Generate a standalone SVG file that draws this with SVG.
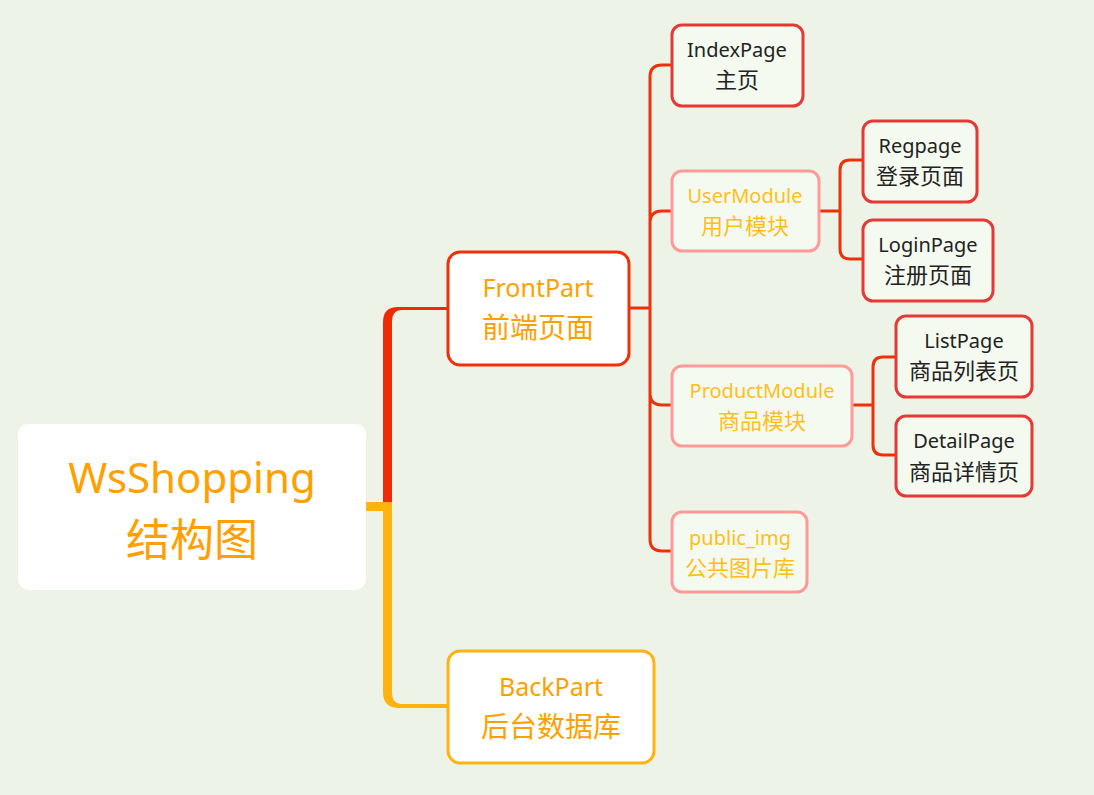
<svg xmlns="http://www.w3.org/2000/svg" width="1094" height="795" viewBox="0 0 1094 795">
<style>
.t{font-family:"Noto Sans","Noto Sans CJK SC",sans-serif;text-anchor:middle}
.leaf rect{fill:#F5FAF0;stroke:#E53935;stroke-width:3}
.leaf text{fill:#222;font-size:20px}
.mod rect{fill:#F5FAF0;stroke:#FF9A98;stroke-width:3}
.mod text{fill:#FFBE1A;font-size:20px}
.leaf text.c,.mod text.c{font-size:22px}
.main text{fill:#FFA000;font-size:25px}
.main text.c{font-size:28px}
.ln{fill:none;stroke:#F0300A;stroke-width:3}
</style>
<rect width="1094" height="795" fill="#EDF4E7"/>
<g id="connectors">
<path d="M383 502 L383 322 Q383 307 398 307 L448 307 L448 310 L402 310 Q392 310 392 322 L392 502 Z" fill="#F02A05"/>
<path d="M383 502 L383 692 Q383 708 399 708 L448 708 L448 704 L402 704 Q392 704 392 692 L392 502 Z" fill="#FFB310"/>
<rect x="366" y="502" width="26" height="9" fill="#FFB310"/>
<path class="ln" d="M629 308 L650 308 M672 65 L662 65 Q650 65 650 77 L650 539 Q650 551 662 551 L672 551 M650 223 Q650 211 662 211 L672 211 M650 393 Q650 405 662 405 L672 405"/>
<path class="ln" d="M820 211 L840 211 M862 160 L850 160 Q840 160 840 170 L840 249 Q840 259 850 259 L862 259"/>
<path class="ln" d="M853 405 L873 405 M895 357 L883 357 Q873 357 873 367 L873 445 Q873 455 883 455 L895 455"/>
</g>
<g id="root">
<rect x="18" y="424" width="348" height="166" rx="11" fill="#fff"/>
<text class="t" x="192" y="493" font-size="42" fill="#FFA000">WsShopping</text>
<text class="t" x="192" y="556" font-size="44" fill="#FFA000">结构图</text>
</g>
<g id="frontpart" class="main">
<rect x="448" y="252" width="181" height="113" rx="12" fill="#fff" stroke="#F0300A" stroke-width="3"/>
<text class="t" x="538" y="297">FrontPart</text>
<text class="t c" x="538" y="338">前端页面</text>
</g>
<g id="backpart" class="main">
<rect x="448" y="651" width="206" height="112" rx="12" fill="#fff" stroke="#FFB310" stroke-width="3"/>
<text class="t" x="551" y="696">BackPart</text>
<text class="t c" x="551" y="737">后台数据库</text>
</g>
<g id="indexpage" class="leaf">
<rect x="672" y="25" width="131" height="81" rx="10"/>
<text class="t" x="737" y="57">IndexPage</text>
<text class="t c" x="737" y="88">主页</text>
</g>
<g id="usermodule" class="mod">
<rect x="672" y="171" width="147" height="80" rx="10"/>
<text class="t" x="745" y="203">UserModule</text>
<text class="t c" x="745" y="234">用户模块</text>
</g>
<g id="regpage" class="leaf">
<rect x="863" y="121" width="114" height="81" rx="10"/>
<text class="t" x="920" y="153">Regpage</text>
<text class="t c" x="920" y="184">登录页面</text>
</g>
<g id="loginpage" class="leaf">
<rect x="863" y="220" width="130" height="81" rx="10"/>
<text class="t" x="928" y="252">LoginPage</text>
<text class="t c" x="928" y="283">注册页面</text>
</g>
<g id="productmodule" class="mod">
<rect x="672" y="366" width="180" height="80" rx="10"/>
<text class="t" x="762" y="398">ProductModule</text>
<text class="t c" x="762" y="429">商品模块</text>
</g>
<g id="listpage" class="leaf">
<rect x="896" y="316" width="136" height="81" rx="10"/>
<text class="t" x="964" y="348">ListPage</text>
<text class="t c" x="964" y="379">商品列表页</text>
</g>
<g id="detailpage" class="leaf">
<rect x="896" y="416" width="136" height="80" rx="10"/>
<text class="t" x="964" y="448">DetailPage</text>
<text class="t c" x="964" y="480">商品详情页</text>
</g>
<g id="publicimg" class="mod">
<rect x="672" y="512" width="135" height="80" rx="10"/>
<text class="t" x="740" y="545">public_img</text>
<text class="t c" x="740" y="576">公共图片库</text>
</g>
</svg>
